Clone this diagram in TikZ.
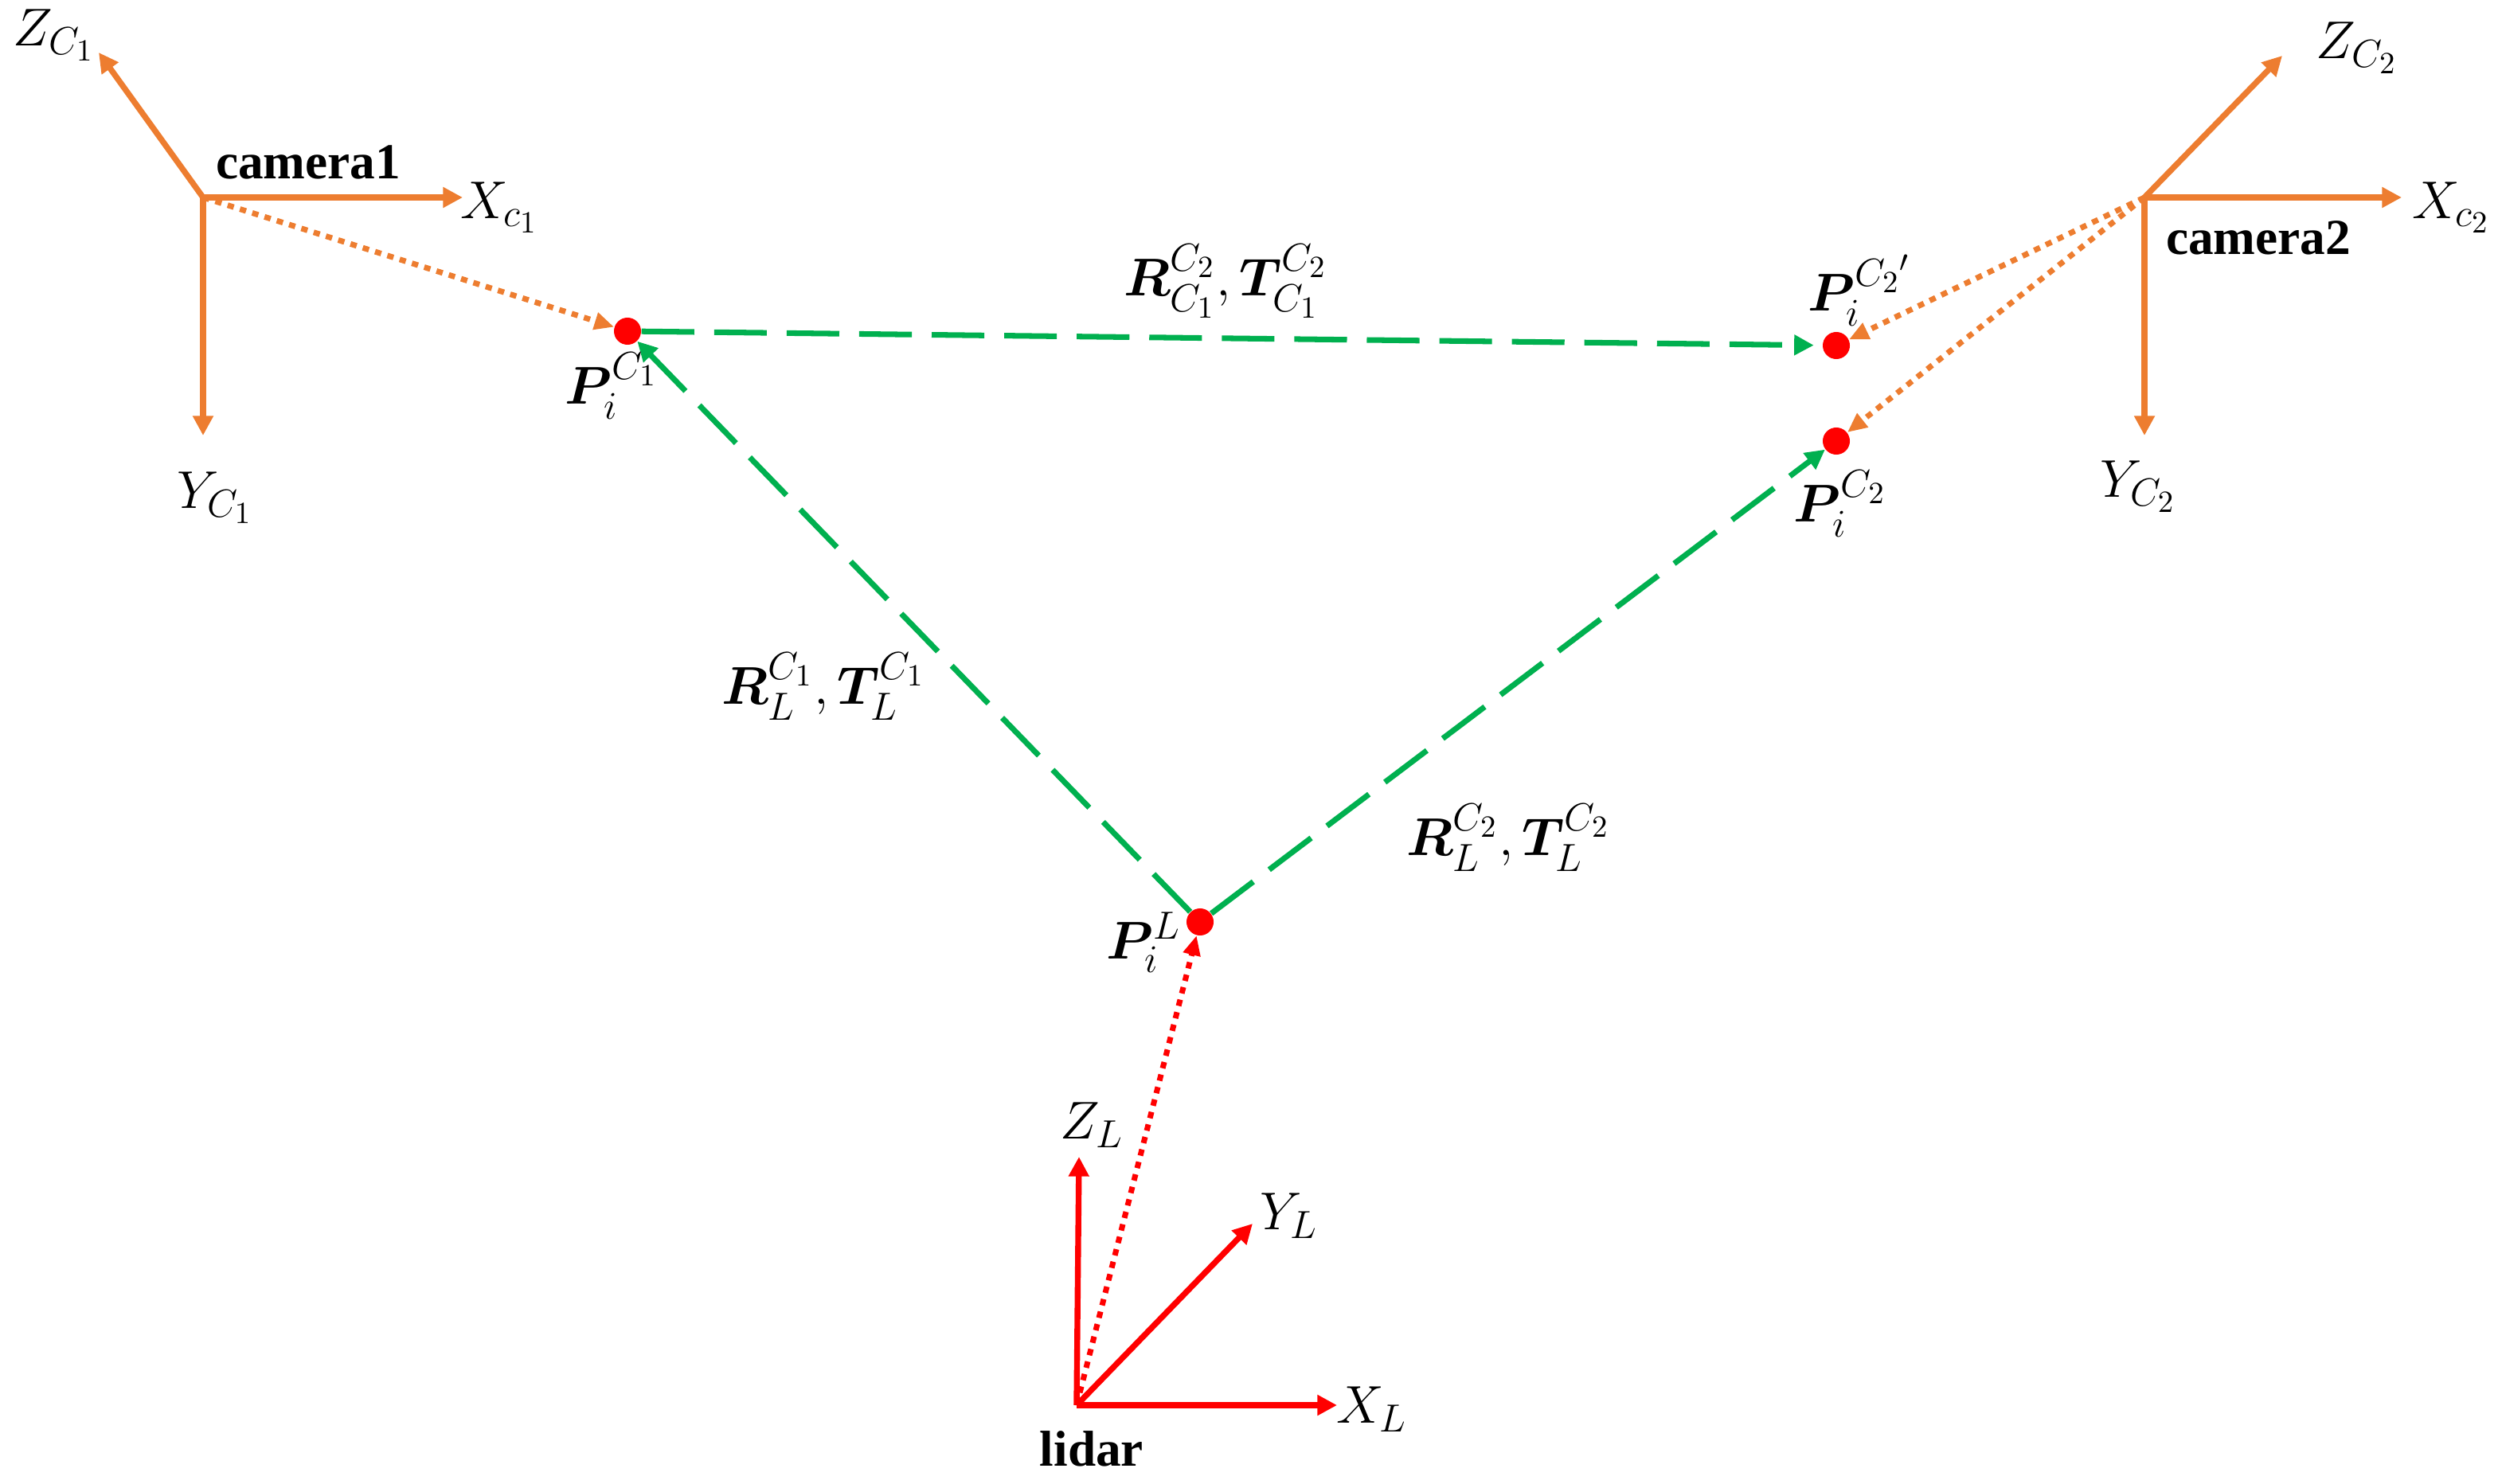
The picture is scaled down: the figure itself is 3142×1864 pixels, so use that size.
\documentclass[tikz,border=0pt]{standalone}
\usepackage{fix-cm}
\usepackage{amsmath}
\usepackage{bm}
\usepackage{fontspec}
\setmainfont{Liberation Serif}
\usepackage{tikz}
\usetikzlibrary{arrows.meta, calc}
\DeclareMathSizes{19}{19}{14}{11}
\definecolor{myorange}{rgb}{0.93, 0.49, 0.19}
\definecolor{mygreen}{rgb}{0.0, 0.69, 0.31}
\definecolor{myred}{rgb}{1.0, 0.0, 0.0}
\tikzstyle{axis} = [line width=2.1pt, -{Triangle[length=7pt, width=7pt]}]
\tikzstyle{ray} = [line width=2pt, dash pattern=on 2.3pt off 2.3pt, -{Triangle[length=7pt, width=6pt]}]
\tikzstyle{link} = [line width=2pt, mygreen, dash pattern=on 18.8pt off 7.1pt, -{Triangle[length=7pt, width=7pt]}]
\tikzstyle{pt} = [circle, fill=myred, inner sep=0pt, minimum size=0.34cm]
\tikzstyle{lbl} = [inner sep=0pt, font=\fontsize{19}{22}\selectfont]
\tikzstyle{frametitle} = [inner sep=0pt, font=\fontsize{18}{20}\selectfont\bfseries]

\begin{document}
\begin{tikzpicture}[x=0.01cm, y=-0.01cm]
    \useasboundingbox (0,0) rectangle (3142,1864);
    % frames
    \coordinate (cam1) at (255,248);
    \coordinate (cam2) at (2693,248);
    \coordinate (lidar) at (1352,1765);
    \coordinate (zc1) at (124,66);
    \coordinate (xc1) at (581,248);
    \coordinate (yc1) at (255,547);
    \coordinate (zc2) at (2866,70);
    \coordinate (xc2) at (3016,248);
    \coordinate (yc2) at (2693,547);
    \coordinate (zl) at (1355,1453);
    \coordinate (yl) at (1573,1537);
    \coordinate (xl) at (1679,1765);
    \foreach \o/\t in {cam1/zc1,cam1/xc1,cam1/yc1,cam2/zc2,cam2/xc2,cam2/yc2} \draw[axis, myorange] (\o) -- (\t);
    \foreach \t in {zl,yl,xl} \draw[axis, myred] (lidar) -- (\t);
    % points
    \node[pt] (pc1) at (788,416) {};
    \node[pt] (pc2p) at (2306,434) {};
    \node[pt] (pc2) at (2306,554) {};
    \node[pt] (pl) at (1507,1158) {};
    \draw[link, shorten >=3pt] (pc1) -- (pc2p);
    \draw[link] (pl) -- (pc1);
    \draw[link] (pl) -- (pc2);
    \draw[ray, myorange] (cam1) -- (pc1);
    \draw[ray, myorange] (cam2) -- (pc2p);
    \draw[ray, myorange] (cam2) -- (pc2);
    \draw[ray, myred] (lidar) -- (pl);
    % labels
    \node[frametitle] (n1) at (387,204) {camera1};
    \node[frametitle] (n2) at (2836,299) {camera2};
    \node[frametitle] (n3) at (1371,1820) {lidar};
    \node[lbl] (lz1) at (68,44) {$Z_{C_1}$};
    \node[lbl] (lx1) at (627,261) {$X_{c_1}$};
    \node[lbl] (ly1) at (270,625) {$Y_{C_1}$};
    \node[lbl] (lz2) at (2960,60) {$Z_{C_2}$};
    \node[lbl] (lx2) at (3078,261) {$X_{c_2}$};
    \node[lbl] (ly2) at (2685,611) {$Y_{C_2}$};
    \node[lbl] (lzl) at (1371,1413) {$Z_L$};
    \node[lbl] (lyl) at (1619,1527) {$Y_L$};
    \node[lbl] (lxl) at (1723,1770) {$X_L$};
    \node[lbl] (lpc1) at (768,485) {$\bm{P}_i^{C_1}$};
    \node[lbl] (lpc2p) at (2335,365) {$\bm{P}_i^{C_2{}'}$};
    \node[lbl] (lpc2) at (2311,633) {$\bm{P}_i^{C_2}$};
    \node[lbl] (lpl) at (1436,1184) {$\bm{P}_i^{L}$};
    \node[lbl] (lrt12) at (1539,353) {$\bm{R}_{C_1}^{C_2},\bm{T}_{C_1}^{C_2}$};
    \node[lbl] (lrtl1) at (1034,862) {$\bm{R}_L^{C_1},\bm{T}_L^{C_1}$};
    \node[lbl] (lrtl2) at (1894,1052) {$\bm{R}_L^{C_2},\bm{T}_L^{C_2}$};
\end{tikzpicture}
\end{document}
